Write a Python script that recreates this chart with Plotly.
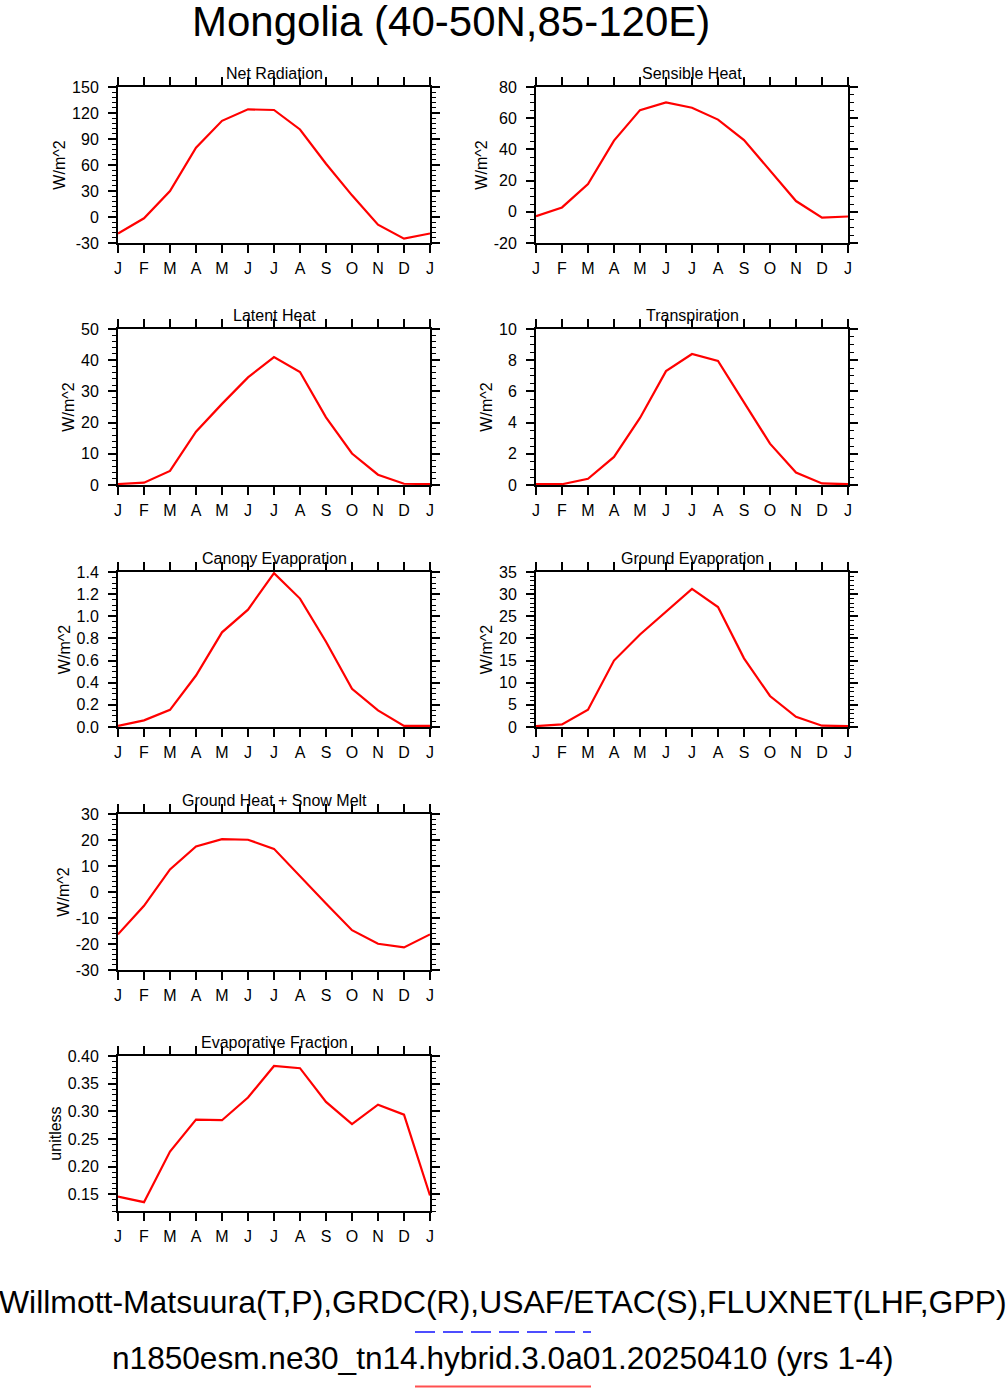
import plotly.graph_objects as go

W, H = 1006, 1388

months = ["J", "F", "M", "A", "M", "J", "J", "A", "S", "O", "N", "D", "J"]

# monthly means, Jan..Dec plus Jan again to close the cycle
net_radiation = [-19, -1.5, 30, 80, 111, 124.2, 123.5, 101, 61.5, 25, -8.8, -25, -19]
sensible_heat = [-2.8, 2.8, 17.8, 45.6, 65.2, 70.1, 66.7, 59.1, 46, 26.5, 6.9, -3.7, -3]
latent_heat = [0.3, 0.75, 4.5, 17.1, 26, 34.5, 41, 36.2, 21.7, 10.1, 3.3, 0.4, 0.3]
transpiration = [0.05, 0.05, 0.4, 1.8, 4.3, 7.3, 8.4, 7.95, 5.3, 2.65, 0.8, 0.1, 0.05]
canopy_evap = [0.01, 0.06, 0.155, 0.465, 0.855, 1.06, 1.39, 1.16, 0.77, 0.345, 0.15, 0.01, 0.01]
ground_evap = [0.2, 0.6, 3.9, 15, 20.9, 26.1, 31.2, 27.1, 15.5, 7, 2.3, 0.3, 0.2]
ground_heat_snow = [-16.3, -5.3, 8.7, 17.5, 20.3, 20.1, 16.6, 5.9, -4.4, -14.7, -19.9, -21.3, -16.3]
evap_fraction = [0.146, 0.136, 0.2275, 0.285, 0.284, 0.325, 0.382, 0.378, 0.317, 0.277, 0.312, 0.294, 0.148]

# (title, data, y-range, first labelled tick, major, minor, units, column, row, decimals)
panels = [
    ("Net Radiation", net_radiation, (-30, 150), -30, 30, 6, "W/m^2", 0, 0, 0),
    ("Sensible Heat", sensible_heat, (-20, 80), -20, 20, 5, "W/m^2", 1, 0, 0),
    ("Latent Heat", latent_heat, (0, 50), 0, 10, 2, "W/m^2", 0, 1, 0),
    ("Transpiration", transpiration, (0, 10), 0, 2, 0.5, "W/m^2", 1, 1, 0),
    ("Canopy Evaporation", canopy_evap, (0, 1.4), 0, 0.2, 0.05, "W/m^2", 0, 2, 1),
    ("Ground Evaporation", ground_evap, (0, 35), 0, 5, 1, "W/m^2", 1, 2, 0),
    ("Ground Heat + Snow Melt", ground_heat_snow, (-30, 30), -30, 10, 2, "W/m^2", 0, 3, 0),
    ("Evaporative Fraction", evap_fraction, (0.12, 0.40), 0.15, 0.05, 0.01, "unitless", 0, 4, 2),
]

col_px = [(118, 430), (536, 848)]
row_px = [(87, 243), (329, 485), (572, 727), (814, 970), (1056, 1211)]

FONT = "Liberation Sans, Arial, Helvetica, sans-serif"

fig = go.Figure()
annotations = []
layout = {}

for i, (title, vals, yr, first, major, minor, units, c, r, dec) in enumerate(panels, start=1):
    xa = "x" if i == 1 else f"x{i}"
    ya = "y" if i == 1 else f"y{i}"
    fig.add_trace(go.Scatter(
        x=list(range(13)), y=vals, mode="lines",
        line=dict(color="#ff0000", width=2.2),
        xaxis=xa, yaxis=ya, showlegend=False, hoverinfo="skip",
    ))
    x0, x1 = col_px[c]
    top, bot = row_px[r]
    xdom = [x0 / W, x1 / W]
    ydom = [1 - bot / H, 1 - top / H]

    # tick labels with a plain hyphen for negatives, as in the original
    tvals = []
    v = first
    while v <= yr[1] + 1e-9:
        tvals.append(round(v, 6))
        v += major
    ttext = [f"{t:.{dec}f}" for t in tvals]

    axis_common = dict(
        showline=True, linecolor="black", linewidth=2, mirror="ticks",
        ticks="outside", ticklen=8, tickwidth=2, tickcolor="black",
        showgrid=False, zeroline=False, automargin=False,
        tickfont=dict(family=FONT, size=16, color="black"),
    )
    layout["xaxis" if i == 1 else f"xaxis{i}"] = dict(
        axis_common, domain=xdom, anchor=ya, range=[0, 12],
        tickmode="array", tickvals=list(range(13)), ticktext=months,
        ticklabelstandoff=2,
    )
    layout["yaxis" if i == 1 else f"yaxis{i}"] = dict(
        axis_common, domain=ydom, anchor=xa, range=list(yr),
        tickmode="array", tickvals=tvals, ticktext=ttext, ticklabelstandoff=6,
        minor=dict(ticks="outside", ticklen=4, tickwidth=1, tickcolor="black",
                   tickmode="linear", tick0=0, dtick=minor, showgrid=False),
        title=dict(text=units, font=dict(family=FONT, size=16, color="black"), standoff=2),
    )
    annotations.append(dict(
        text=title, x=(x0 + x1) / 2 / W, y=1 - top / H, xref="paper", yref="paper",
        xanchor="center", yanchor="bottom", yshift=3, showarrow=False,
        font=dict(family=FONT, size=16, color="black"),
    ))

annotations.append(dict(
    text="Mongolia (40-50N,85-120E)", x=451 / W, y=1 - 22 / H, xref="paper", yref="paper",
    xanchor="center", yanchor="middle", showarrow=False, borderpad=0,
    font=dict(family=FONT, size=42, color="black"),
))
annotations.append(dict(
    text="Willmott-Matsuura(T,P),GRDC(R),USAF/ETAC(S),FLUXNET(LHF,GPP)",
    x=503 / W, y=1 - 1302 / H, xref="paper", yref="paper",
    xanchor="center", yanchor="middle", showarrow=False,
    font=dict(family=FONT, size=31.9, color="black"),
))
annotations.append(dict(
    text="n1850esm.ne30_tn14.hybrid.3.0a01.20250410 (yrs 1-4)",
    x=503 / W, y=1 - 1358 / H, xref="paper", yref="paper",
    xanchor="center", yanchor="middle", showarrow=False,
    font=dict(family=FONT, size=31.6, color="black"),
))

shapes = [
    dict(type="line", xref="paper", yref="paper", x0=415 / W, x1=591 / W,
         y0=1 - 1332 / H, y1=1 - 1332 / H,
         line=dict(color="#4d4dff", width=2, dash="20px,8px")),
    dict(type="line", xref="paper", yref="paper", x0=415 / W, x1=591 / W,
         y0=1 - 1386.5 / H, y1=1 - 1386.5 / H,
         line=dict(color="#ff5050", width=2)),
]

fig.update_layout(
    width=W, height=H, margin=dict(l=0, r=0, t=0, b=0, pad=0),
    paper_bgcolor="white", plot_bgcolor="white",
    annotations=annotations, shapes=shapes, **layout,
)

fig.write_html("out.html", config={"displayModeBar": False},
               post_script="document.body.style.margin='0';")
